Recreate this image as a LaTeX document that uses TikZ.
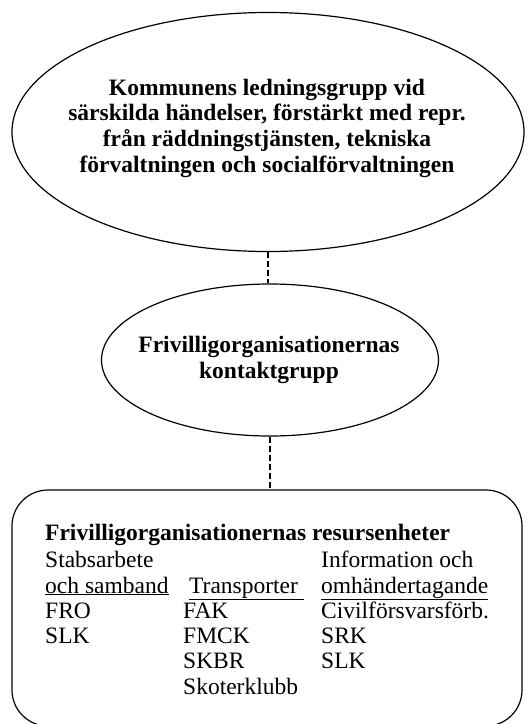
\documentclass[tikz,border=0pt]{standalone}
\usepackage{fontspec}
\setmainfont{Liberation Serif}
\usetikzlibrary{shapes.geometric}
\begin{document}
\begin{tikzpicture}[x=1pt,y=-1pt,
  bubble/.style={draw,ellipse,line width=1.2pt,inner sep=0pt},
  caption/.style={align=center,inner sep=0pt,
    font=\bfseries\fontsize{23.5}{25.7}\selectfont},
  panel/.style={draw,rounded corners=36pt,line width=1.2pt,inner sep=0pt},
  link/.style={line width=1.1pt,dash pattern=on 6pt off 3pt},
  entry/.style={anchor=base west,inner sep=0pt,font=\fontsize{23.5}{25}\selectfont}]
\useasboundingbox (0,0) rectangle (528,724);
\fill[white] (0,0) rectangle (528,724);

\node[bubble,minimum width=512pt,minimum height=239pt] (lead) at (268,132) {};
\node[caption] (leadtext) at (267,128)
  {Kommunens ledningsgrupp vid\\särskilda händelser, förstärkt med repr.\\från räddningstjänsten, tekniska\\förvaltningen och socialförvaltningen};

\node[bubble,minimum width=337pt,minimum height=152pt] (contact) at (270,360) {};
\node[caption] (contacttext) at (269,360) {Frivilligorganisationernas\\kontaktgrupp};

\node[panel,minimum width=510pt,minimum height=236pt] (res) at (267,608) {};

\draw[link] (lead.south) -- (lead.south |- contact.north);
\draw[link] (contact.south) -- (contact.south |- res.north);

% resource units, three columns
\node[entry,font=\bfseries\fontsize{23.5}{25}\selectfont] (title) at (45,540) {Frivilligorganisationernas resursenheter};
\node[entry] (c1a) at (45,567) {Stabsarbete};
\node[entry] (c1b) at (45,593) {\underline{och samband}};
\node[entry] (c1c) at (45,618) {FRO};
\node[entry] (c1d) at (45,643) {SLK};
\node[entry] (c2a) at (189,593) {\underline{Transporter\ }};
\node[entry] (c2b) at (183,618) {FAK};
\node[entry] (c2c) at (183,643) {FMCK};
\node[entry] (c2d) at (183,668) {SKBR};
\node[entry] (c2e) at (183,694) {Skoterklubb};
\node[entry] (c3a) at (321,567) {Information och};
\node[entry] (c3b) at (321,593) {\underline{omhändertagande}};
\node[entry] (c3c) at (321,618) {Civilförsvarsförb.};
\node[entry] (c3d) at (321,643) {SRK};
\node[entry] (c3e) at (321,668) {SLK};
\end{tikzpicture}
\end{document}
